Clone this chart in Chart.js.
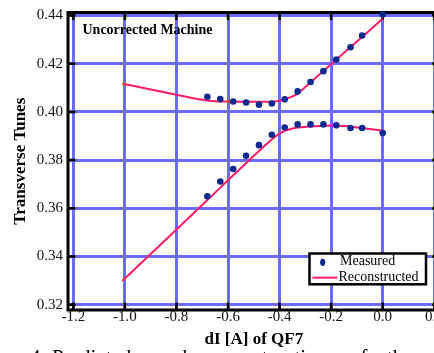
<!DOCTYPE html>
<html>
<head>
<meta charset="utf-8">
<script src="https://cdn.jsdelivr.net/npm/chart.js@4.4.0/dist/chart.umd.min.js"></script>
<style>
  html, body { margin: 0; padding: 0; overflow: hidden; background: #ffffff; }
  canvas { display: block; }
</style>
</head>
<body>
<canvas id="chart" width="470" height="353"></canvas>
<script>
// Axis ticks
const xTicks = [-1.2, -1.0, -0.8, -0.6, -0.4, -0.2, 0.0, 0.2];
const xTickLabels = ['-1.2', '-1.0', '-0.8', '-0.6', '-0.4', '-0.2', '0.0', '0.2'];
const yTicks = [0.32, 0.34, 0.36, 0.38, 0.40, 0.42, 0.44];
const yTickLabels = ['0.32', '0.34', '0.36', '0.38', '0.40', '0.42', '0.44'];

// Measured tunes vs. QF7 current change
const measuredX = [-0.68, -0.63, -0.58, -0.53, -0.48, -0.43, -0.38, -0.33, -0.28, -0.23, -0.18, -0.125, -0.08, 0.0];
const upperMeasured = [0.4063, 0.4053, 0.4043, 0.4039, 0.4030, 0.4035, 0.4052, 0.4085, 0.4124, 0.4169, 0.4217, 0.4268, 0.4317, 0.4404];
const lowerMeasured = [0.3650, 0.3711, 0.3763, 0.3818, 0.3862, 0.3905, 0.3935, 0.3948, 0.3948, 0.3948, 0.3944, 0.3933, 0.3933, 0.3912];

// Reconstructed model curves
const reconX = [-1.01, -0.9, -0.8, -0.7, -0.65, -0.6, -0.55, -0.5, -0.45, -0.42, -0.4, -0.38, -0.35, -0.33, -0.3, -0.25, -0.2, -0.15, -0.1, -0.05, 0.0];
const upperRecon = [0.4117, 0.4093, 0.4071, 0.4050, 0.4044, 0.4043, 0.4042, 0.4042, 0.4042, 0.4043, 0.4046, 0.4052, 0.4064, 0.4076, 0.4103, 0.4151, 0.4198, 0.4245, 0.4292, 0.4339, 0.4387];
const lowerRecon = [0.3298, 0.3410, 0.3512, 0.3614, 0.3665, 0.3716, 0.3767, 0.3818, 0.3867, 0.3895, 0.3910, 0.3921, 0.3931, 0.3935, 0.3938, 0.3941, 0.3943, 0.3941, 0.3935, 0.3929, 0.3922];

const seriesLabels = ['Measured', 'Reconstructed'];
const chartNote = 'Uncorrected Machine';
const xTitle = 'dI [A] of QF7';
const yTitle = 'Transverse Tunes';
const captionWords = ['4.', 'Predicted', 'and', 'reconstruction', 'of', 'the'];

const SERIF = "'Liberation Serif', 'Times New Roman', Times, serif";
const POINT_COLOR = '#0a2a8e';
const LINE_COLOR = '#ff1a6a';
const GRID_COLOR = '#6a6aff';

const toXY = (xs, ys) => xs.map((x, i) => ({ x: x, y: ys[i] }));

// Black frame with short inward tick marks on all four sides
const framePlugin = {
  id: 'frame',
  beforeDatasetsDraw(chart) {
    const { ctx, chartArea: a, scales } = chart;
    ctx.save();
    ctx.strokeStyle = '#000';
    ctx.lineWidth = 3;
    ctx.strokeRect(a.left, a.top, a.right - a.left, a.bottom - a.top);
    ctx.lineWidth = 2.5;
    const len = 7.5;
    ctx.beginPath();
    scales.x.ticks.forEach(t => {
      const px = scales.x.getPixelForValue(t.value);
      ctx.moveTo(px, a.top); ctx.lineTo(px, a.top + len);
      ctx.moveTo(px, a.bottom); ctx.lineTo(px, a.bottom - len);
    });
    scales.y.ticks.forEach(t => {
      const py = scales.y.getPixelForValue(t.value);
      ctx.moveTo(a.left, py); ctx.lineTo(a.left + len, py);
      ctx.moveTo(a.right, py); ctx.lineTo(a.right - len, py);
    });
    ctx.stroke();
    ctx.restore();
  }
};

// Boxed legend, inset note and caption line
const notesPlugin = {
  id: 'notes',
  afterDraw(chart) {
    const { ctx } = chart;
    ctx.save();
    // note
    ctx.fillStyle = '#000';
    ctx.font = 'bold 14px ' + SERIF;
    ctx.textBaseline = 'alphabetic';
    ctx.textAlign = 'left';
    ctx.fillText(chartNote, 82.5, 34.3);

    // legend box
    const bx = 309.5, by = 253.5, bw = 116.5, bh = 30.8;
    ctx.fillStyle = '#fff';
    ctx.fillRect(bx, by, bw, bh);
    ctx.strokeStyle = '#000';
    ctx.lineWidth = 2.5;
    ctx.strokeRect(bx, by, bw, bh);
    // measured marker
    ctx.fillStyle = POINT_COLOR;
    ctx.beginPath();
    ctx.ellipse(322.7, 262.3, 2.6, 3.6, 0, 0, Math.PI * 2);
    ctx.fill();
    // reconstructed sample
    ctx.strokeStyle = LINE_COLOR;
    ctx.lineWidth = 2;
    ctx.beginPath();
    ctx.moveTo(312.5, 277.7);
    ctx.lineTo(337.5, 277.7);
    ctx.stroke();
    ctx.fillStyle = '#000';
    ctx.font = '14px ' + SERIF;
    ctx.fillText(seriesLabels[0], 340, 265);
    ctx.fillText(seriesLabels[1], 338.5, 280.5);

    // caption line below the chart
    ctx.font = '21px ' + SERIF;
    const wordX = [30, 52, 157, 207, 350, 387];
    captionWords.forEach((w, i) => ctx.fillText(w, wordX[i], 363.5));
    ctx.restore();
  }
};

Chart.defaults.font.family = SERIF;
Chart.defaults.color = '#111';

new Chart(document.getElementById('chart'), {
  type: 'scatter',
  data: {
    datasets: [
      {
        label: seriesLabels[0] + ' (upper)',
        data: toXY(measuredX, upperMeasured),
        pointRadius: 3.3,
        pointBackgroundColor: POINT_COLOR,
        pointBorderWidth: 0,
        showLine: false,
        clip: 10,
        order: 1
      },
      {
        label: seriesLabels[0] + ' (lower)',
        data: toXY(measuredX, lowerMeasured),
        pointRadius: 3.3,
        pointBackgroundColor: POINT_COLOR,
        pointBorderWidth: 0,
        showLine: false,
        clip: 10,
        order: 1
      },
      {
        label: seriesLabels[1] + ' (upper)',
        data: toXY(reconX, upperRecon),
        showLine: true,
        borderColor: LINE_COLOR,
        borderWidth: 2,
        pointRadius: 0,
        cubicInterpolationMode: 'monotone',
        clip: 10,
        order: 2
      },
      {
        label: seriesLabels[1] + ' (lower)',
        data: toXY(reconX, lowerRecon),
        showLine: true,
        borderColor: LINE_COLOR,
        borderWidth: 2,
        pointRadius: 0,
        cubicInterpolationMode: 'monotone',
        clip: 10,
        order: 2
      }
    ]
  },
  options: {
    responsive: false,
    devicePixelRatio: 1,
    animation: false,
    layout: { padding: { top: 8.7, right: 30.4, bottom: 0, left: 0 } },
    plugins: {
      legend: { display: false },
      tooltip: { enabled: false }
    },
    scales: {
      x: {
        type: 'linear',
        min: -1.2206,
        max: 0.2206,
        afterFit: s => { s.height = 43; },
        afterBuildTicks: s => { s.ticks = xTicks.map(v => ({ value: v })); },
        grid: { color: GRID_COLOR, lineWidth: 3, drawTicks: false },
        border: { display: false },
        ticks: {
          autoSkip: false,
          maxRotation: 0,
          padding: 0,
          color: '#111',
          font: { size: 15, lineHeight: 1 },
          callback: (v, i) => xTickLabels[i]
        },
        title: {
          display: true,
          text: xTitle,
          color: '#000',
          font: { size: 17, weight: 'bold', lineHeight: 1.2 },
          padding: { top: 0, bottom: 3 }
        }
      },
      y: {
        type: 'linear',
        min: 0.3178,
        max: 0.44123,
        afterFit: s => { s.width = 68; },
        afterBuildTicks: s => { s.ticks = yTicks.map(v => ({ value: v })); },
        grid: { color: GRID_COLOR, lineWidth: 3, drawTicks: false },
        border: { display: false },
        ticks: {
          autoSkip: false,
          padding: 5,
          color: '#111',
          font: { size: 15, lineHeight: 1 },
          callback: (v, i) => yTickLabels[i]
        },
        title: {
          display: true,
          text: yTitle,
          color: '#000',
          font: { size: 17, weight: 'bold', lineHeight: 1.2 },
          padding: { top: 10, bottom: 0 }
        }
      }
    }
  },
  plugins: [framePlugin, notesPlugin]
});
</script>
</body>
</html>
